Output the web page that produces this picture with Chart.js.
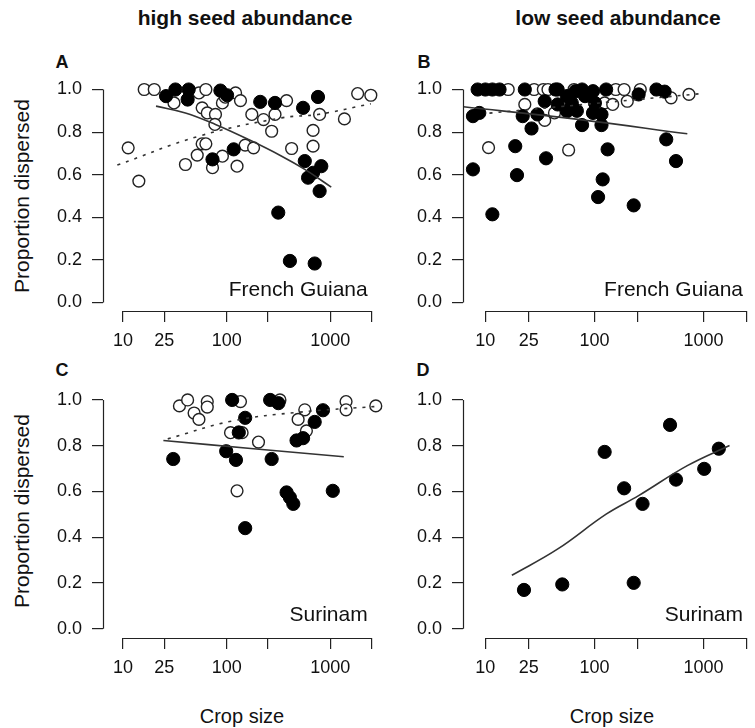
<!DOCTYPE html>
<html>
<head>
<meta charset="utf-8">
<script src="https://cdn.jsdelivr.net/npm/chart.js@4.4.1/dist/chart.umd.min.js"></script>
<style>
  body { margin: 0; background: #fff; }
  #page { position: relative; width: 755px; height: 728px; overflow: hidden; font-family: "Liberation Sans", Arial, sans-serif; color: #111; }
  canvas { position: absolute; }
  .t { position: absolute; white-space: nowrap; transform: translate(-50%, -50%); }
  .title { font-weight: bold; font-size: 21px; }
  .letter { font-weight: bold; font-size: 18px; }
  .axt { font-size: 20px; }
  .rot { font-size: 21px; transform: translate(-50%, -50%) rotate(-90deg); }
</style>
</head>
<body>
<div id="page">
  <div class="t title" style="left:245px;top:18px">high seed abundance</div>
  <div class="t title" style="left:618px;top:18px">low seed abundance</div>
  <div class="t letter" style="left:62px;top:62px">A</div>
  <div class="t letter" style="left:424px;top:62px">B</div>
  <div class="t letter" style="left:62px;top:370px">C</div>
  <div class="t letter" style="left:423px;top:370px">D</div>
  <div class="t axt rot" style="left:22px;top:196px">Proportion dispersed</div>
  <div class="t axt rot" style="left:22px;top:511px">Proportion dispersed</div>
  <div class="t axt" style="left:242px;top:716px">Crop size</div>
  <div class="t axt" style="left:612px;top:716px">Crop size</div>

  <canvas id="cA" width="390" height="370" style="left:0;top:0"></canvas>
  <canvas id="cB" width="380" height="370" style="left:375px;top:0"></canvas>
  <canvas id="cC" width="390" height="358" style="left:0;top:370px"></canvas>
  <canvas id="cD" width="380" height="358" style="left:375px;top:370px"></canvas>
</div>
<script>
// axes
var yTicks = [0, 0.2, 0.4, 0.6, 0.8, 1.0];
var xTicks = [10, 25, 100, 250, 1000, 2500];
var xTickLabels = ['10', '25', '100', '', '1000', ''];
var yRange = [-0.04, 1.04];
var xRangeLeft = [6.4, 3190];
var xRangeRight = [6.24, 2523];

// A: high seed abundance, French Guiana  [crop size, proportion]
var openA = [[16,1.0],[20,1.0],[11.2,0.726],[14.2,0.57],[31,0.937],[54,0.984],[63,1.0],[58,0.914],
  [65,0.89],[78,0.883],[77,0.836],[91,0.937],[122,0.984],[136,0.948],[97,0.964],[175,0.883],
  [227,0.859],[293,0.883],[272,0.804],[379,0.948],[58,0.745],[63,0.745],[52,0.692],[40,0.648],
  [73,0.633],[91,0.687],[126,0.64],[151,0.739],[182,0.726],[424,0.723],[683,0.808],[683,0.734],
  [790,0.883],[1371,0.862],[1840,0.981],[2466,0.973]];
var filledA = [[26,0.969],[32,1.0],[43,1.0],[42,0.953],[87,0.995],[101,0.973],[211,0.942],[293,0.937],
  [547,0.914],[762,0.965],[117,0.719],[73,0.672],[568,0.664],[820,0.64],[611,0.586],[683,0.609],
  [790,0.523],[315,0.422],[408,0.195],[708,0.183]];
var solidA = [[20.8,0.922],[40,0.89],[78,0.836],[163,0.765],[340,0.687],[568,0.625],[1023,0.542]];
var dashA = [[8.8,0.645],[54,0.781],[340,0.867],[762,0.883],[2466,0.933]];

// B: low seed abundance, French Guiana
var openB = [[16.2,1.0],[28,1.0],[34,1.0],[37.5,1.0],[65,1.0],[157,1.0],[187,1.0],[263,1.0],
  [504,0.961],[735,0.977],[23,0.93],[43,0.89],[35,0.855],[124,0.937],[147,0.93],[200,0.945],
  [10.7,0.727],[58,0.716]];
var filledB = [[8.5,1.0],[10,1.0],[11.6,1.0],[13.5,1.0],[23,1.0],[46,1.0],[77,1.0],[128,1.0],[370,1.0],
  [44,1.0],[56,0.969],[67,0.992],[82,0.969],[97,0.992],[46,0.93],[62,0.937],[101,0.937],[56,0.898],
  [69,0.9],[97,0.89],[116,0.883],[77,0.833],[116,0.833],[35,0.945],[22,0.875],[30,0.883],[26.5,0.817],
  [7.7,0.875],[8.8,0.89],[254,0.977],[440,0.99],[18.8,0.734],[132,0.719],[455,0.766],[559,0.664],
  [7.7,0.625],[19.5,0.598],[36,0.677],[119,0.578],[108,0.495],[229,0.456],[11.6,0.414]];
var solidB = [[6.3,0.919],[65,0.862],[710,0.792]];
var dashB = [[10.9,0.889],[920,0.98]];

// C: high seed abundance, Surinam
var openC = [[35,0.974],[42,1.0],[48.5,0.943],[54,0.915],[65,0.993],[65,0.969],[136,0.993],[109,0.857],
  [141,0.857],[203,0.816],[327,1.0],[568,0.957],[490,0.915],[589,0.865],[1422,0.993],[1422,0.957],
  [2754,0.974],[126,0.603]];
var filledC = [[30.5,0.742],[113,1.0],[151,0.922],[131,0.858],[99,0.776],[123,0.738],[263,1.0],[316,0.986],
  [272,0.742],[473,0.823],[547,0.833],[708,0.904],[851,0.955],[379,0.596],[408,0.574],[440,0.546],
  [1059,0.603],[151,0.44]];
var solidC = [[24.5,0.823],[182,0.787],[1352,0.752]];
var dashC = [[27,0.83],[113,0.908],[490,0.946],[2858,0.972]];

// D: low seed abundance, Surinam
var filledD = [[22.6,0.17],[50.7,0.194],[124,0.773],[187,0.614],[229,0.201],[276,0.546],[493,0.891],
  [559,0.652],[1014,0.699],[1380,0.787]];
var solidD = [[17.5,0.234],[45.8,0.348],[128,0.501],[254,0.582],[710,0.713],[1730,0.801]];

var font = 'Liberation Sans';

// R style axes: line only from first to last tick, plus site label in data coords
var rAxes = {
  id: 'rAxes',
  afterDraw: function (chart, args, o) {
    var ctx = chart.ctx, a = chart.chartArea, x = chart.scales.x, y = chart.scales.y;
    ctx.save();
    ctx.strokeStyle = '#222';
    ctx.lineWidth = 1.2;
    ctx.beginPath();
    ctx.moveTo(x.getPixelForValue(xTicks[0]), Math.round(a.bottom) + 0.5);
    ctx.lineTo(x.getPixelForValue(xTicks[xTicks.length - 1]), Math.round(a.bottom) + 0.5);
    ctx.moveTo(Math.round(a.left) + 0.5, y.getPixelForValue(yTicks[0]));
    ctx.lineTo(Math.round(a.left) + 0.5, y.getPixelForValue(yTicks[yTicks.length - 1]));
    ctx.stroke();
    ctx.fillStyle = '#111';
    ctx.font = '21px "' + font + '"';
    ctx.textAlign = 'right';
    ctx.textBaseline = 'middle';
    ctx.fillText(o.site, x.getPixelForValue(2300), y.getPixelForValue(0.06));
    ctx.restore();
  }
};

function pts(arr) {
  return arr.map(function (p) { return { x: p[0], y: p[1] }; });
}

function panel(id, open, filled, solid, dashed, xRange, site, yw, xh, top, right) {
  var ds = [];
  ds.push({ data: pts(solid), showLine: true, borderColor: '#333', borderWidth: 1.6, pointRadius: 0, tension: 0.4 });
  if (dashed.length) ds.push({ data: pts(dashed), showLine: true, borderColor: '#333', borderWidth: 1.6, borderDash: [3, 6], pointRadius: 0, tension: 0.4 });
  ds.push({ data: pts(filled), backgroundColor: '#000', borderColor: '#000', borderWidth: 1, pointRadius: 6.6 });
  if (open.length) ds.push({ data: pts(open), backgroundColor: '#fff', borderColor: '#222', borderWidth: 1.4, pointRadius: 5.9 });

  var tickFont = { family: font, size: 18 };
  new Chart(document.getElementById(id), {
    type: 'scatter',
    data: { datasets: ds },
    options: {
      responsive: false,
      animation: false,
      clip: false,
      layout: { padding: { top: top, right: right, left: 0, bottom: 0 } },
      plugins: { legend: { display: false }, tooltip: { enabled: false }, rAxes: { site: site } },
      scales: {
        x: {
          type: 'logarithmic', min: xRange[0], max: xRange[1],
          afterBuildTicks: function (s) { s.ticks = xTicks.map(function (v) { return { value: v }; }); },
          afterFit: function (s) { s.height = xh; },
          grid: { display: true, drawOnChartArea: false, drawTicks: true, tickLength: 11, color: '#222', lineWidth: 1.2 },
          border: { display: false },
          ticks: { autoSkip: false, maxRotation: 0, padding: 8, color: '#111', font: tickFont,
            callback: function (v) { return xTickLabels[xTicks.indexOf(v)]; } }
        },
        y: {
          min: yRange[0], max: yRange[1],
          afterBuildTicks: function (s) { s.ticks = yTicks.map(function (v) { return { value: v }; }); },
          afterFit: function (s) { s.width = yw; },
          grid: { display: true, drawOnChartArea: false, drawTicks: true, tickLength: 11, color: '#222', lineWidth: 1.2 },
          border: { display: false },
          ticks: { autoSkip: false, padding: 10, color: '#111', font: tickFont,
            callback: function (v) { return v.toFixed(1); } }
        }
      }
    },
    plugins: [rAxes]
  });
}

panel('cA', openA, filledA, solidA, dashA, xRangeLeft, 'French Guiana', 103, 59, 81, 5);
panel('cB', openB, filledB, solidB, dashB, xRangeRight, 'French Guiana', 88, 59, 81, 0);
panel('cC', openC, filledC, solidC, dashC, xRangeLeft, 'Surinam', 103, 90, 14, 5);
panel('cD', [], filledD, solidD, [], xRangeRight, 'Surinam', 88, 90, 14, 0);
</script>
</body>
</html>
